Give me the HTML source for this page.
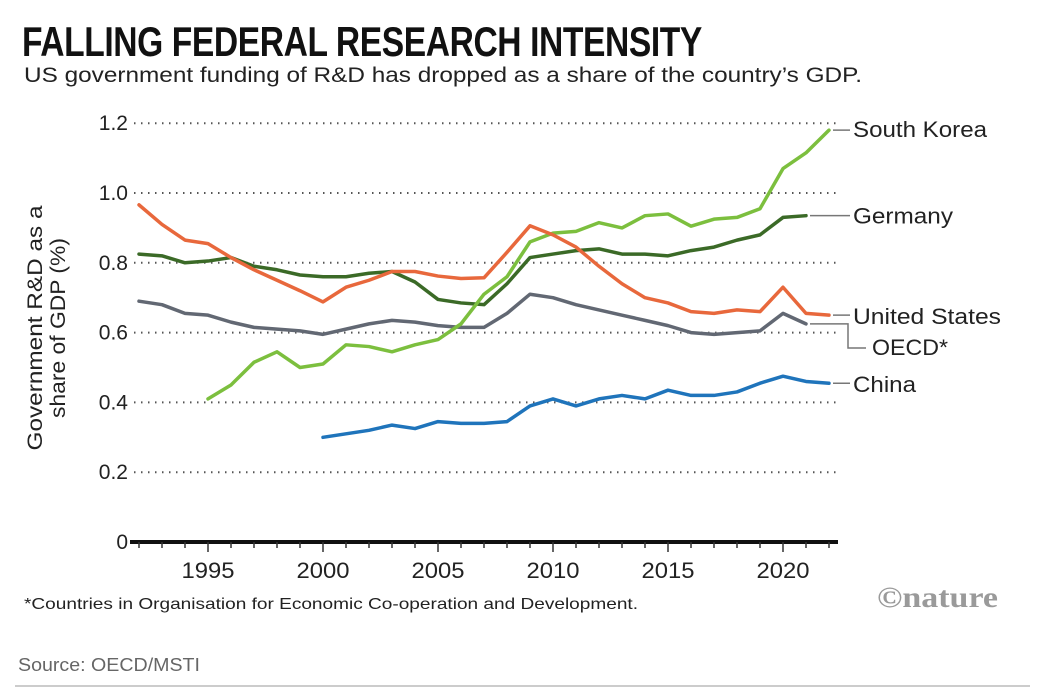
<!DOCTYPE html>
<html><head><meta charset="utf-8">
<style>
body{margin:0;background:#fff;width:1042px;height:691px;overflow:hidden;font-family:"Liberation Sans",sans-serif}
svg{position:absolute;left:0;top:0}
</style></head>
<body>
<svg width="1042" height="691">
<text x="22" y="56" font-size="42" font-weight="bold" fill="#111" transform="translate(22,0) scale(0.8,1) translate(-22,0)" letter-spacing="-0.5">FALLING FEDERAL RESEARCH INTENSITY</text>
<text x="24" y="82" font-size="21" fill="#222" textLength="838" lengthAdjust="spacingAndGlyphs">US government funding of R&amp;D has dropped as a share of the country’s GDP.</text>
<g id="grid"></g>
<g id="yticks"></g>
<g id="xaxis"></g>
<g id="series"></g>
<g id="labels"></g>
<text transform="translate(42,328) rotate(-90)" text-anchor="middle" font-size="21" fill="#222"><tspan x="0" dy="0" textLength="245" lengthAdjust="spacingAndGlyphs">Government R&amp;D as a</tspan><tspan x="0" dy="23" textLength="180" lengthAdjust="spacingAndGlyphs">share of GDP (%)</tspan></text>
<text x="24" y="609" font-size="16" fill="#222" textLength="614" lengthAdjust="spacingAndGlyphs">*Countries in Organisation for Economic Co-operation and Development.</text>
<text x="877" y="607" font-size="30" font-weight="bold" fill="#9a9a9a" font-family="Liberation Serif,serif" textLength="121" lengthAdjust="spacingAndGlyphs">©nature</text>
<text x="18" y="671" font-size="18" fill="#666" textLength="182" lengthAdjust="spacingAndGlyphs">Source: OECD/MSTI</text>
<line x1="15" y1="686" x2="1030" y2="686" stroke="#999" stroke-width="1"/>
</svg>
<script>
const years = [1992,1993,1994,1995,1996,1997,1998,1999,2000,2001,2002,2003,2004,2005,2006,2007,2008,2009,2010,2011,2012,2013,2014,2015,2016,2017,2018,2019,2020,2021,2022];
const usValues = [0.966,0.91,0.865,0.855,0.815,0.78,0.75,0.72,0.688,0.73,0.75,0.775,0.775,0.762,0.755,0.757,0.83,0.906,0.88,0.845,0.79,0.74,0.70,0.685,0.66,0.655,0.665,0.66,0.73,0.655,0.65];
const germanyValues = [0.825,0.82,0.80,0.805,0.815,0.79,0.78,0.765,0.76,0.76,0.77,0.775,0.745,0.695,0.685,0.68,0.74,0.815,0.825,0.835,0.84,0.825,0.825,0.82,0.835,0.845,0.865,0.88,0.93,0.935,null];
const koreaValues = [null,null,null,0.41,0.45,0.515,0.545,0.50,0.51,0.565,0.56,0.545,0.565,0.58,0.625,0.71,0.76,0.86,0.885,0.89,0.915,0.90,0.935,0.94,0.905,0.925,0.93,0.955,1.07,1.115,1.18];
const oecdValues = [0.69,0.68,0.655,0.65,0.63,0.615,0.61,0.605,0.595,0.61,0.625,0.635,0.63,0.62,0.615,0.615,0.655,0.71,0.70,0.68,0.665,0.65,0.635,0.62,0.60,0.595,0.60,0.605,0.655,0.625,null];
const chinaValues = [null,null,null,null,null,null,null,null,0.30,0.31,0.32,0.335,0.325,0.345,0.34,0.34,0.345,0.39,0.41,0.39,0.41,0.42,0.41,0.435,0.42,0.42,0.43,0.455,0.475,0.46,0.455];
const yTicks = [0,0.2,0.4,0.6,0.8,1.0,1.2];
const yTickLabels = ["0","0.2","0.4","0.6","0.8","1.0","1.2"];
const xTickYears = [1995,2000,2005,2010,2015,2020];

const NS="http://www.w3.org/2000/svg";
const X = y => 323 + (y-2000)*23;
const Y = v => 542 - v*349;
function mk(tag,attrs,parent){const e=document.createElementNS(NS,tag);for(const k in attrs)e.setAttribute(k,attrs[k]);parent.appendChild(e);return e;}
const grid=document.getElementById('grid'), yt=document.getElementById('yticks'), xa=document.getElementById('xaxis'), ser=document.getElementById('series'), lab=document.getElementById('labels');
yTicks.forEach((v,i)=>{
  if(v>0){
    const l=mk('line',{x1:134,x2:840,y1:Y(v),y2:Y(v),stroke:'#555','stroke-width':2,'stroke-dasharray':'1.5 5.5'},grid);
    
    
  }
  const t=mk('text',{x:128,y:Y(v)+7,'text-anchor':'end','font-size':21,fill:'#222'},yt);
  t.textContent=yTickLabels[i];
  
  
});
const ax=mk('line',{x1:130,x2:838,y1:542,y2:542,stroke:'#111','stroke-width':4},xa);


years.forEach(y=>{
  const major=xTickYears.includes(y);
  const tk=mk('line',{x1:X(y),x2:X(y),y1:542,y2:major?552:548,stroke:'#333','stroke-width':1.5},xa);
  
  
});
xTickYears.forEach(y=>{
  const t=mk('text',{x:X(y),y:578,'text-anchor':'middle','font-size':22,fill:'#222',textLength:53,lengthAdjust:'spacingAndGlyphs'},xa);
  t.textContent=y;
  
  
});
function line(vals,color,name){
  const pts=[];vals.forEach((v,i)=>{if(v!==null)pts.push(X(years[i])+','+Y(v));});
  const p=mk('polyline',{points:pts.join(' '),fill:'none',stroke:color,'stroke-width':3.5,'stroke-linejoin':'round','stroke-linecap':'round'},ser);
  
  
}
line(chinaValues,'#1f74bb','line-china');
line(oecdValues,'#626873','line-oecd');
line(germanyValues,'#3b6a27','line-germany');
line(koreaValues,'#7cbf3e','line-south-korea');
line(usValues,'#e8683c','line-united-states');
function lastIdx(a){for(let i=a.length-1;i>=0;i--)if(a[i]!==null)return i;}
function label(vals,text,ty,name,elbow,w){
  const i=lastIdx(vals);const x0=X(years[i])+4, y0=Y(vals[i]);
  let d;
  if(elbow){d=`M${x0},${y0} H${848} V${ty-5} H${866}`;}
  else d=`M${x0},${y0} H${850}`;
  const p=mk('path',{d:d,fill:'none',stroke:'#777','stroke-width':1.5},lab);
  
  
  const t=mk('text',{x:elbow?872:853,y:ty+2,'font-size':22,fill:'#222',textLength:w,lengthAdjust:'spacingAndGlyphs'},lab);
  t.textContent=text;
  
  
}
label(koreaValues,'South Korea',Y(koreaValues[lastIdx(koreaValues)])+5,'south-korea',false,134);
label(germanyValues,'Germany',Y(germanyValues[lastIdx(germanyValues)])+6,'germany',false,100);
label(usValues,'United States',Y(usValues[lastIdx(usValues)])+7,'united-states',false,148);
label(oecdValues,'OECD*',353,'oecd',true,76);
label(chinaValues,'China',Y(chinaValues[lastIdx(chinaValues)])+7,'china',false,63);
</script>
</body></html>
